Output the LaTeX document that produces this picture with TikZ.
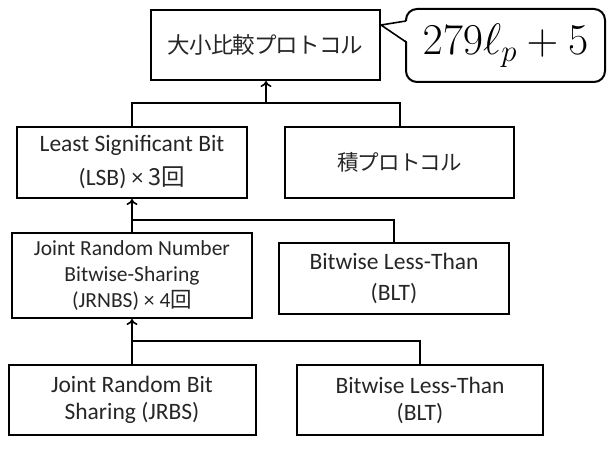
\RequirePackage{fix-cm}
\documentclass[tikz,border=0pt]{standalone}
\usepackage{fontspec}
\setmainfont{Carlito}
\newfontfamily\jp[LetterSpace=-4]{Noto Sans CJK JP}
\newfontfamily\jpn{Noto Sans CJK JP}
\usetikzlibrary{arrows.meta}
\tikzset{
  box/.style={draw, line width=2pt, inner sep=0pt, align=center, text=black!85},
  conn/.style={line width=2pt},
  uparrow/.style={line width=2pt, -{To[length=6pt,width=11pt,line width=1.6pt]}},
}
\begin{document}
\begin{tikzpicture}[x=1pt,y=-1pt]
\useasboundingbox (0,0) rectangle (607,462);
% top row
\node[box, minimum width=229pt, minimum height=70pt, font=\jp\fontsize{22.5}{26}\selectfont] (top) at (265.5,45) {大小比較プロトコル};
\node[draw, line width=2pt, rounded corners=11pt, inner sep=0pt, minimum width=199pt, minimum height=73pt] (cost) at (505.5,45.5) {\fontsize{44}{50}\selectfont $279\ell_p+5$};
\coordinate (tip) at (381,25);
\coordinate (pa) at (406,21);
\coordinate (pb) at (406,42);
\fill[white] ([xshift=2pt]pa) -- (tip) -- ([xshift=2pt]pb) -- cycle;
\draw[line width=1.6pt, line join=round] (pa) -- (tip) -- (pb);
% row 2
\node[box, minimum width=230pt, minimum height=71pt, font=\fontsize{23.5}{34}\selectfont] (lsb) at (132,162.5) {Least Significant Bit\\(LSB) × {\jpn 3回}};
\node[box, minimum width=229pt, minimum height=71pt, font=\jp\fontsize{21.5}{26}\selectfont] (seki) at (399.5,162.5) {積プロトコル};
% row 3
\node[box, minimum width=240pt, minimum height=85pt, font=\fontsize{21.5}{26}\selectfont] (jrnbs) at (132,275.5) {Joint Random Number\\Bitwise-Sharing\\(JRNBS) × 4{\jpn 回}};
\node[box, minimum width=230pt, minimum height=71pt, font=\fontsize{23.5}{31}\selectfont] (blt1) at (394,278.5) {Bitwise Less-Than\\(BLT)};
% row 4
\node[box, minimum width=247pt, minimum height=70pt, font=\fontsize{23.5}{27}\selectfont] (jrbs) at (132,400) {Joint Random Bit\\Sharing (JRBS)};
\node[box, minimum width=246pt, minimum height=70pt, font=\fontsize{23.5}{27}\selectfont] (blt2) at (420,400) {Bitwise Less-Than\\(BLT)};
% connectors
\coordinate (j1) at (266,103);
\coordinate (j2) at (132,220);
\coordinate (j3) at (132,341);
\draw[conn] (lsb.north) |- (j1) -| (seki.north);
\draw[uparrow] (j1) -- (j1 |- top.south);
\draw[conn] (jrnbs.north) -- (j2) -| (blt1.north);
\draw[uparrow] (j2) -- (lsb.south);
\draw[conn] (jrbs.north) -- (j3) -| (blt2.north);
\draw[uparrow] (j3) -- (jrnbs.south);
\end{tikzpicture}
\end{document}
